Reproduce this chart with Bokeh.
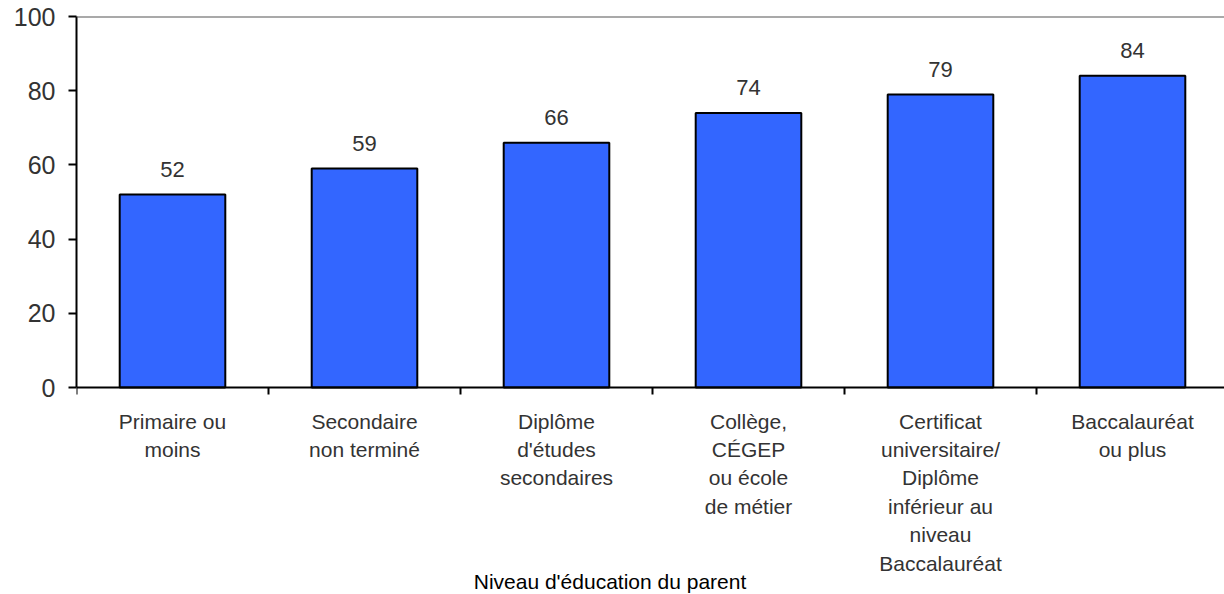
from bokeh.plotting import figure
from bokeh.models import Range1d, FixedTicker, Span, Label, LinearAxis
from bokeh.embed import file_html
from bokeh.resources import INLINE

# Parent education level (label lines) and the share for each level
categories = [
    ["Primaire ou", "moins"],
    ["Secondaire", "non terminé"],
    ["Diplôme", "d'études", "secondaires"],
    ["Collège,", "CÉGEP", "ou école", "de métier"],
    ["Certificat", "universitaire/", "Diplôme", "inférieur au", "niveau", "Baccalauréat"],
    ["Baccalauréat", "ou plus"],
]
values = [52, 59, 66, 74, 79, 84]
y_ticks = [0, 20, 40, 60, 80, 100]
x_title = "Niveau d'éducation du parent"

W, H = 1224, 594
LEFT, TOP = 76, 16
ZERO_PX = 387                        # page row of the value axis' zero
CAT_PX = 192.0                       # width of one category slot in pixels
ppu = (ZERO_PX - TOP) / 100.0        # pixels per y unit
y_start = -(H - ZERO_PX) / ppu       # frame runs to the bottom of the page
LIFT = 9                             # text box baseline correction, pixels

FONT = "Liberation Sans"
TXT = "#333333"

p = figure(
    width=W, height=H,
    output_backend="svg", toolbar_location=None,
    x_range=Range1d(0, (W - LEFT) / CAT_PX),
    y_range=Range1d(y_start, 100),
    x_axis_location=None,
    min_border_left=LEFT, min_border_right=0,
    min_border_top=TOP, min_border_bottom=0,
    background_fill_color="white", border_fill_color="white",
)
p.outline_line_color = None
p.xgrid.visible = False
p.ygrid.visible = False

centers = [i + 0.5 for i in range(len(values))]
p.vbar(x=centers, top=values, width=0.55, bottom=0,
       fill_color="#3366FF", line_color="black", line_width=2)

# top frame line
p.add_layout(Span(location=100, dimension="width", line_color="#555555", line_width=2))

# y axis, limited to 0..100
ya = p.yaxis[0]
ya.ticker = FixedTicker(ticks=y_ticks, minor_ticks=[])
ya.bounds = (0, 100)
ya.axis_line_color = "black"
ya.axis_line_width = 2
ya.major_tick_line_color = "black"
ya.major_tick_line_width = 2
ya.major_tick_out = 8
ya.major_tick_in = 0
ya.minor_tick_line_color = None
ya.major_label_text_font = FONT
ya.major_label_text_font_size = "25px"
ya.major_label_text_color = TXT
ya.major_label_standoff = 13

# x axis sitting at y = 0, ticks on category boundaries (names drawn below)
xa = LinearAxis(fixed_location=0)
xa.ticker = FixedTicker(ticks=list(range(len(values) + 1)), minor_ticks=[])
xa.axis_line_color = "black"
xa.axis_line_width = 2
xa.major_tick_line_color = "black"
xa.major_tick_line_width = 2
xa.major_tick_out = 7
xa.major_tick_in = 0
xa.minor_tick_line_color = None
xa.major_label_text_color = None
p.add_layout(xa, "below")


def px_to_y(ypx):
    """Convert a page pixel row (text baseline) to a y data value."""
    return (ZERO_PX - (ypx - LIFT)) / ppu


# value labels above bars
for c, v in zip(centers, values):
    p.add_layout(Label(x=c, y=v + (16 + LIFT) / ppu, text=str(v),
                       text_align="center", text_baseline="alphabetic",
                       text_font=FONT, text_font_size="22px", text_color=TXT))

# category labels, one Label per line
first_base, line_step = 429.5, 28.4
for c, lines in zip(centers, categories):
    for k, line in enumerate(lines):
        p.add_layout(Label(x=c, y=px_to_y(first_base + k * line_step), text=line,
                           text_align="center", text_baseline="alphabetic",
                           text_font=FONT, text_font_size="21px", text_color=TXT))

# axis title
p.add_layout(Label(x=(609.5 - LEFT) / CAT_PX, y=px_to_y(589.5), text=x_title,
                   text_align="center", text_baseline="alphabetic",
                   text_font=FONT, text_font_size="21px", text_color="black"))

open("out.html", "w").write(file_html(p, INLINE))
